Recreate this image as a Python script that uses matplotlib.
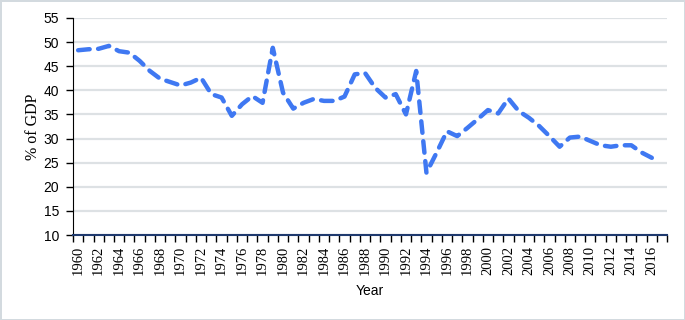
import numpy as np
import matplotlib.pyplot as plt

years = list(range(1960, 2017))
gdp_share = [48.3, 48.5, 48.6, 49.2, 48.1, 47.8, 46.1, 44.0, 42.4, 41.7,
             41.0, 41.6, 42.6, 39.2, 38.5, 34.7, 37.1, 38.8, 37.4, 48.8,
             39.5, 36.2, 37.4, 38.2, 37.8, 37.8, 38.7, 43.3, 43.6, 40.5,
             38.5, 39.2, 35.0, 44.0, 22.9, 27.1, 31.5, 30.5, 32.2, 34.0,
             35.9, 35.2, 38.3, 35.7, 34.3, 32.6, 30.5, 28.3, 30.2, 30.4,
             29.5, 28.6, 28.3, 28.6, 28.6, 27.1, 26.0]
label_years = list(range(1960, 2017, 2))
y_ticks = list(range(10, 56, 5))

fig = plt.figure(figsize=(6.85, 3.2), dpi=100)
fig.patch.set_edgecolor('#d3dadf')
fig.patch.set_linewidth(2)
ax = fig.add_axes([0.1066, 0.2656, 0.8674, 0.6784])

ax.plot(years, gdp_share, color='#3f78f2', lw=3.2, ls=(0, (2.6, 1.9)),
        dash_capstyle='round', solid_joinstyle='round')

ax.set_xlim(1959.5, 2017.5)
ax.set_ylim(10, 55)
ax.set_yticks(y_ticks)
ax.set_yticklabels([str(v) for v in y_ticks], family='Liberation Sans', fontsize=10)
ax.yaxis.grid(True, color='#dde1e4', lw=1.6)
ax.set_axisbelow(True)
ax.tick_params(axis='y', length=5, width=1, pad=5)

# year labels centred on categories, tick marks between categories
ax.set_xticks(label_years)
ax.set_xticklabels([str(y) for y in label_years], rotation=90,
                   family='Liberation Serif', fontsize=10.5)
ax.tick_params(axis='x', which='major', length=0, pad=8)
ax.set_xticks(np.arange(1959.5, 2018, 1), minor=True)
ax.tick_params(axis='x', which='minor', length=5, width=1, color='black')

for s in ['top', 'right']:
    ax.spines[s].set_visible(False)
ax.spines['left'].set_color('black')
ax.spines['bottom'].set_color('#1f3a6e')
ax.spines['bottom'].set_linewidth(1.5)

ax.set_ylabel('% of GDP', family='Liberation Serif', fontsize=11.5, labelpad=2)
ax.set_xlabel('Year', family='Liberation Sans', fontsize=10, labelpad=6)

fig.savefig('out.png', dpi=100)
